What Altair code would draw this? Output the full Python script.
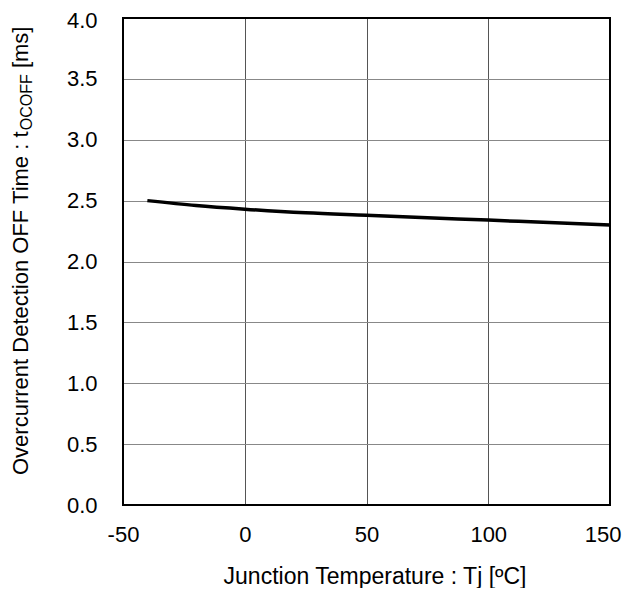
import altair as alt
import pandas as pd

# Data
temps = [-40, -20, 0, 25, 50, 75, 100, 125, 150]
toff = [2.50, 2.46, 2.43, 2.40, 2.38, 2.36, 2.34, 2.32, 2.30]
x_ticks = [-50, 0, 50, 100, 150]
y_ticks = [0.0, 0.5, 1.0, 1.5, 2.0, 2.5, 3.0, 3.5, 4.0]

df = pd.DataFrame({"Tj": temps, "t": toff})

W, H = 487, 487
FONT = "Liberation Sans"
TITLE_SIZE = 22
SUB_SIZE = 16

# y-title pieces (main text, subscript, tail)
main_txt = "Overcurrent Detection OFF Time : t"
sub_txt = "OCOFF"
tail_txt = "[ms]"

# approximate advance widths (Arial/Liberation Sans units per 1000)
adv = {"O": 778, "v": 500, "e": 556, "r": 333, "c": 500, "u": 556, "n": 556,
       "t": 278, " ": 278, "D": 722, "i": 222, "o": 556, "F": 611, "T": 611,
       "m": 833, ":": 278, "[": 278, "s": 500, "]": 278, "C": 722}


def width(s, size):
    return sum(adv.get(ch, 556) for ch in s) * size / 1000.0


y0 = 457
x_base = -95.5
y_sub = y0 - width(main_txt, TITLE_SIZE)
y_tail = y_sub - width(sub_txt, SUB_SIZE) - width(" ", TITLE_SIZE)

base = alt.Chart(df)

line = base.mark_line(color="black", strokeWidth=3.5, interpolate="monotone", clip=True).encode(
    x=alt.X("Tj:Q",
            scale=alt.Scale(domain=[-50, 150], nice=False, zero=False),
            axis=alt.Axis(values=x_ticks, title="Junction Temperature : Tj [ºC]",
                          labelExpr="toString(datum.value)",
                          labelAlign={"condition": {"test": "datum.value == 150", "value": "right"},
                                      "value": "center"},
                          labelOffset={"condition": {"test": "datum.value == 150", "value": 11},
                                       "value": 0},
                          grid=True, gridColor="#555555", gridWidth=1,
                          ticks=False, domain=False, labelPadding=19,
                          labelFontSize=22, labelFont=FONT, labelColor="black",
                          titleFontSize=23, titleFont=FONT, titleFontWeight="normal",
                          titleColor="black", labelFlush=False,
                          titleX=W / 2 + 8, titleY=78, titleAlign="center",
                          titleBaseline="alphabetic")),
    y=alt.Y("t:Q",
            scale=alt.Scale(domain=[0, 4], nice=False),
            axis=alt.Axis(values=y_ticks, format=".1f", title=None,
                          labelOffset={"condition": {"test": "datum.value == 4", "value": 2},
                                       "value": 0},
                          grid=True, gridColor="#888888", gridWidth=1,
                          ticks=False, domain=False, labelPadding=26,
                          labelFontSize=22, labelFont=FONT, labelColor="black",
                          labelFlush=False)),
)

frame = alt.Chart(pd.DataFrame({"a": [0]})).mark_rect(
    fill=None, stroke="black", strokeWidth=2
).encode(x=alt.value(0), x2=alt.value(W), y=alt.value(0), y2=alt.value(H))

t_main = alt.Chart(pd.DataFrame({"a": [0]})).mark_text(
    text=main_txt, angle=270, align="left", baseline="alphabetic",
    font=FONT, fontSize=TITLE_SIZE, color="black"
).encode(x=alt.value(x_base), y=alt.value(y0))

t_sub = alt.Chart(pd.DataFrame({"a": [0]})).mark_text(
    text=sub_txt, angle=270, align="left", baseline="alphabetic",
    font=FONT, fontSize=SUB_SIZE, color="black"
).encode(x=alt.value(x_base + 4.5), y=alt.value(y_sub))

t_tail = alt.Chart(pd.DataFrame({"a": [0]})).mark_text(
    text=tail_txt, angle=270, align="left", baseline="alphabetic",
    font=FONT, fontSize=TITLE_SIZE, color="black"
).encode(x=alt.value(x_base), y=alt.value(y_tail))

chart = alt.layer(line, frame, t_main, t_sub, t_tail).properties(
    width=W, height=H,
    autosize=alt.AutoSizeParams(type="none"),
    padding={"left": 115, "top": 10, "right": 12, "bottom": 83},
).configure_view(stroke=None).configure(background="white")

chart.save("out.html", embed_options={"renderer": "svg", "actions": False})
